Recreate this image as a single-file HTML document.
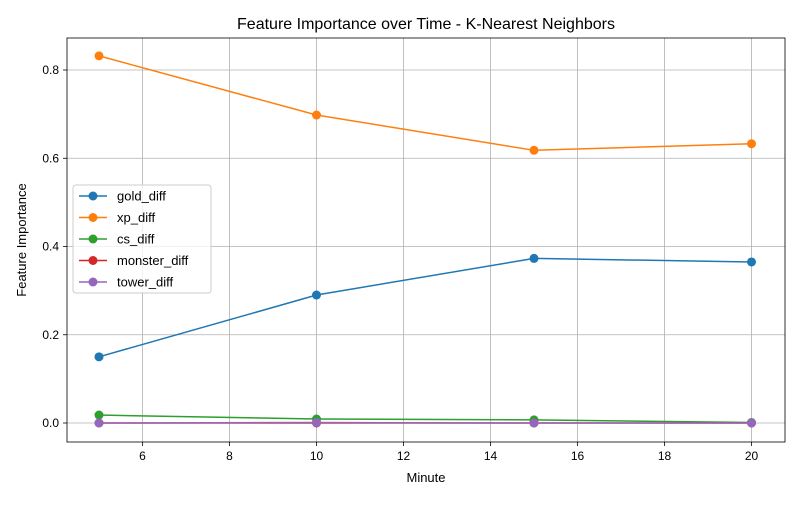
<!DOCTYPE html>
<html><head><meta charset="utf-8"><style>
body{margin:0;background:#fff;font-family:"Liberation Sans","DejaVu Sans",sans-serif}
</style></head><body>
<svg id="chart" width="800" height="500" xmlns="http://www.w3.org/2000/svg"></svg>
<script>
const minutes=[5,10,15,20];
const seriesNames=["gold_diff","xp_diff","cs_diff","monster_diff","tower_diff"];
const colors=["#1f77b4","#ff7f0e","#2ca02c","#d62728","#9467bd"];
const goldDiff=[0.150,0.290,0.373,0.365];
const xpDiff=[0.832,0.698,0.618,0.633];
const csDiff=[0.018,0.009,0.007,0.001];
const monsterDiff=[0.000,0.000,0.000,0.000];
const towerDiff=[0.000,0.001,0.000,0.000];
const xTicks=[6,8,10,12,14,16,18,20];
const yTicks=[0.0,0.2,0.4,0.6,0.8];
const allSeries=[goldDiff,xpDiff,csDiff,monsterDiff,towerDiff];
const L=67,R=785,T=38,B=442;
const X=v=>99+(v-5)*43.5;
const Y=v=>423-v*441.25;
const svg=document.getElementById('chart');
const NS="http://www.w3.org/2000/svg";
function mk(tag,attrs,parent){const e=document.createElementNS(NS,tag);for(const k in attrs)e.setAttribute(k,attrs[k]);(parent||svg).appendChild(e);return e;}
const grid=mk('g',{});


xTicks.forEach(t=>{const x=X(t);
 mk('line',{x1:x,x2:x,y1:T,y2:B,stroke:'#b0b0b0','stroke-width':0.8},grid);
 mk('line',{x1:x,x2:x,y1:B,y2:B+4,stroke:'#000','stroke-width':0.8});
 const tx=mk('text',{x:x,y:B+18,'font-size':12,'text-anchor':'middle',fill:'#000'});tx.textContent=t;
 
 });
yTicks.forEach(t=>{const y=Y(t);
 mk('line',{x1:L,x2:R,y1:y,y2:y,stroke:'#b0b0b0','stroke-width':0.8},grid);
 mk('line',{x1:L-4,x2:L,y1:y,y2:y,stroke:'#000','stroke-width':0.8});
 const tx=mk('text',{x:L-8,y:y+4,'font-size':12,'text-anchor':'end',fill:'#000'});tx.textContent=t.toFixed(1);
 
 });
allSeries.forEach((s,i)=>{
 const g=mk('g',{});
 
 
 mk('polyline',{points:s.map((v,j)=>X(minutes[j])+','+Y(v)).join(' '),fill:'none',stroke:colors[i],'stroke-width':1.5},g);
 s.forEach((v,j)=>{const c=mk('circle',{cx:X(minutes[j]),cy:Y(v),r:4.5,fill:colors[i]},g);
  
  });
});
const frame=mk('rect',{x:L,y:T,width:R-L,height:B-T,fill:'none',stroke:'#000','stroke-width':0.8});


const title=mk('text',{x:426,y:29,'font-size':16,'text-anchor':'middle',fill:'#000'});title.textContent='Feature Importance over Time - K-Nearest Neighbors';


const xl=mk('text',{x:426,y:482,'font-size':13,'text-anchor':'middle',fill:'#000'});xl.textContent='Minute';


const yl=mk('text',{x:26,y:240,'font-size':13,'text-anchor':'middle',fill:'#000',transform:'rotate(-90 26 240)'});yl.textContent='Feature Importance';


const lg=mk('g',{});


mk('rect',{x:73,y:185,width:138,height:108,rx:3,fill:'#fff','fill-opacity':0.8,stroke:'#ccc'},lg);
seriesNames.forEach((n,i)=>{const y=196+i*21.5;
 const e=mk('g',{},lg);
 
 
 mk('line',{x1:79,x2:107,y1:y,y2:y,stroke:colors[i],'stroke-width':1.5},e);
 mk('circle',{cx:93,cy:y,r:4.5,fill:colors[i]},e);
 const t=mk('text',{x:117,y:y+4.5,'font-size':13,fill:'#000'},e);t.textContent=n;});
</script>
</body></html>
